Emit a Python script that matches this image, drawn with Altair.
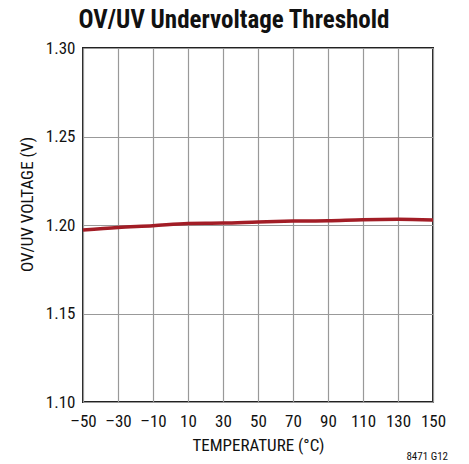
import altair as alt
import pandas as pd

temps = [-50, -30, -10, 10, 30, 50, 70, 90, 110, 130, 150]
volts = [1.1972, 1.1986, 1.1996, 1.2009, 1.2011, 1.2017, 1.2022, 1.2024, 1.2030, 1.2032, 1.2028]
x_ticks = [-50, -30, -10, 10, 30, 50, 70, 90, 110, 130, 150]
y_ticks = [1.10, 1.15, 1.20, 1.25, 1.30]

df = pd.DataFrame({"t": temps, "v": volts})
FONT = "Roboto Condensed"

line = alt.Chart(df).mark_line(color="#a21d26", strokeWidth=3.5, interpolate="monotone").encode(
    x=alt.X("t:Q", scale=alt.Scale(domain=[-50, 150], nice=False),
            axis=alt.Axis(values=x_ticks, title="TEMPERATURE (°C)", labelPadding=11,
                          titlePadding=8, labelFlush=False, labelExpr="replace(datum.label, '−', '–')")),
    y=alt.Y("v:Q", scale=alt.Scale(domain=[1.10, 1.30], nice=False, zero=False),
            axis=alt.Axis(values=y_ticks, format=".2f", title="OV/UV VOLTAGE (V)",
                          labelPadding=8, titlePadding=9, titleY=156)),
)

note = alt.Chart(pd.DataFrame({"s": ["8471 G12"]})).mark_text(
    align="right", baseline="middle", fontSize=11, font=FONT, color="#111"
).encode(x=alt.value(365), y=alt.value(409), text="s:N")

chart = (line + note).properties(
    width=350, height=354,
    title=alt.TitleParams("OV/UV Undervoltage Threshold", fontSize=25, fontWeight="bold",
                          font=FONT, color="#111", offset=6, dx=-24, anchor="middle"),
    autosize=alt.AutoSizeParams(type="none"),
    padding={"left": 75, "top": 40, "right": 28, "bottom": 62},
).configure_view(stroke="#222", strokeWidth=2).configure_axis(
    grid=True, gridColor="#999", gridWidth=1.2, domain=False, ticks=False,
    labelFont=FONT, labelFontSize=17, labelColor="#111",
    titleFont=FONT, titleFontSize=17, titleFontWeight="normal", titleColor="#111",
)

chart.save("out.html", embed_options={"renderer": "svg", "actions": False})
